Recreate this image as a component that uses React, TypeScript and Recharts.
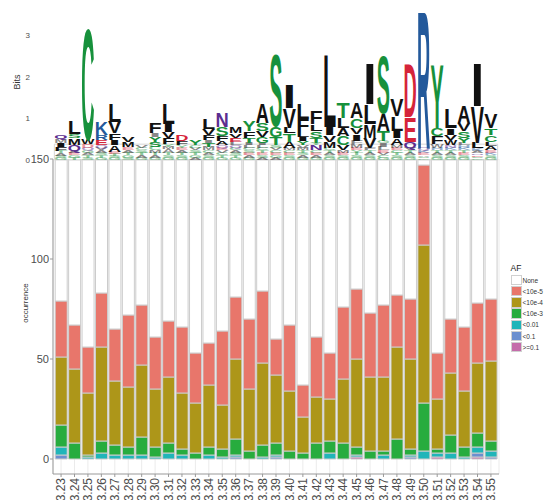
import React from 'react';
import { BarChart, Bar, XAxis, YAxis, CartesianGrid, ReferenceArea } from 'recharts';

const positions = [
  '3.23', '3.24', '3.25', '3.26', '3.27', '3.28', '3.29', '3.30', '3.31', '3.32', '3.33',
  '3.34', '3.35', '3.36', '3.37', '3.38', '3.39', '3.40', '3.41', '3.42', '3.43', '3.44',
  '3.45', '3.46', '3.47', '3.48', '3.49', '3.50', '3.51', '3.52', '3.53', '3.54', '3.55',
];

const afLevels = ['None', '<10e-5', '<10e-4', '<10e-3', '<0.01', '<0.1', '>=0.1'];
const afColors = ['#ffffff', '#E8766B', '#AD9619', '#27AC3E', '#20B5B9', '#6B8FCF', '#C46CAA'];

// occurrence counts per AF class
const noneCounts = [71, 83, 94, 67, 85, 78, 73, 89, 81, 84, 97, 92, 86, 69, 80, 66, 90, 83, 113, 89, 97, 74, 65, 77, 73, 68, 70, 3, 97, 80, 84, 72, 70];
const e5Counts = [28, 22, 23, 27, 26, 36, 30, 26, 28, 33, 25, 21, 37, 31, 35, 36, 18, 33, 16, 30, 23, 36, 35, 32, 36, 26, 30, 40, 23, 27, 32, 30, 31];
const e4Counts = [34, 37, 31, 47, 32, 30, 36, 29, 33, 28, 25, 31, 22, 40, 31, 41, 34, 30, 18, 23, 21, 32, 44, 37, 37, 46, 45, 79, 25, 31, 28, 35, 40];
const e3Counts = [11, 8, 1, 6, 5, 4, 9, 5, 5, 3, 3, 4, 4, 8, 4, 6, 6, 4, 3, 8, 6, 8, 4, 4, 2, 10, 3, 24, 2, 9, 5, 7, 5];
const p01Counts = [4, 0, 1, 3, 2, 2, 2, 1, 3, 2, 0, 2, 1, 1, 0, 1, 1, 0, 0, 0, 3, 0, 1, 0, 2, 0, 1, 4, 2, 3, 1, 3, 3];
const p1Counts = [2, 0, 0, 0, 0, 0, 0, 0, 0, 0, 0, 0, 0, 1, 0, 0, 1, 0, 0, 0, 0, 0, 0, 0, 0, 0, 1, 0, 0, 0, 0, 2, 1];
const ge1Counts = [0, 0, 0, 0, 0, 0, 0, 0, 0, 0, 0, 0, 0, 0, 0, 0, 0, 0, 0, 0, 0, 0, 1, 0, 0, 0, 0, 0, 1, 0, 0, 1, 0];

// sequence logo: letter + bits, bottom to top
const logoColumns = [
  'G.05 S.05 A.06 T.06 F.10 I.10 M.08 Q.10',
  'T.06 G.06 E.05 A.05 Q.14 M.16 S.10 L.30',
  'S.05 T.06 A.06 G.06 Q.07 D.08 W.12 C2.70',
  'G.06 T.06 S.06 A.06 V.06 Q.06 E.12 R.12 K.30',
  'G.05 S.05 T.05 E.05 A.16 I.12 F.16 V.28 L.44',
  'S.06 G.06 T.06 A.07 E.07 M.12 V.12',
  'G.06 A.06 T.06 S.06 C.06 V.06',
  'G.06 A.06 T.06 M.06 C.08 S.12 Y.12 I.08 F.26',
  'G.06 S.06 T.06 A.08 M.06 Y.06 F.16 V.14 I.18 L.52',
  'G.06 S.06 T.06 A.06 E.06 Y.06 F.10 D.14',
  'A.06 G.06 T.06 S.06 V.06 C.06 Y.12',
  'G.06 S.06 A.06 C.06 M.08 T.10 I.06 F.12 V.14 L.24',
  'G.06 T.06 C.06 V.06 E.06 Q.06 A.10 F.12 S.22 N.34',
  'G.06 T.06 S.06 A.06 C.06 Q.06 L.08 E.10 V.10 M.14',
  'G.06 A.06 E.06 S.06 C.06 L.06 I.06 T.12 F.16 Y.24',
  'A.06 S.06 E.06 T.06 C.06 L.06 I.06 G.14 V.14 S.18 A.48',
  'A.06 G.06 E.06 C.06 V.06 S.06 T.20 G.26 S1.74',
  'G.06 S.06 E.06 C.06 M.06 A.14 T.20 L.14 V.48 I.56',
  'G.06 A.06 S.06 T.06 M.06 V.06 Y.10 I.10 L.12 F.30 L.38',
  'G.06 A.06 E.06 C.06 N.12 Y.06 T.12 S.16 L.16 F.30',
  'G.06 S.06 A.06 T.06 C.06 M.14 V.16 I.20 L1.80',
  'G.06 S.06 E.06 M.06 V.12 C.22 A.20 L.24 T.38',
  'G.06 S.06 T.06 Y.06 E.06 M.08 F.08 I.16 V.16 C.22 A.38',
  'G.06 S.06 A.06 T.06 F.06 V.24 M.32 L.48 I.98',
  'G.06 C.06 V.06 E.06 L.08 I.08 G.06 T.24 A.42 S1.40',
  'G.06 S.06 T.06 C.06 E.06 M.06 A.16 I.18 L.36 V.42',
  'G.06 S.06 A.06 T.06 V.06 Q.14 E.60 D1.32',
  'G.04 S.04 A.04 E.06 K.06 Q.06 R3.38',
  'G.06 S.06 A.06 T.06 H.06 W.08 F.20 C.20 Y1.56',
  'G.06 S.06 A.06 T.06 K.06 N.06 W.12 V.12 I.16 L.46',
  'G.06 S.06 E.06 T.06 K.06 H.06 L.06 Y.12 S.16 V.20 A.42',
  'G.04 S.04 E.04 N.04 A.06 K.06 L.14 V.88 I1.04',
  'G.06 S.06 K.06 E.06 A.10 L.10 C.16 T.16 V.34',
];

const FONT = '"Liberation Sans", Arial, Helvetica, sans-serif';
const CAP = 0.716;
const LEVELS = 11;

const barData = positions.map((pos, i) => ({
  pos,
  ge1: ge1Counts[i],
  p1: p1Counts[i],
  p01: p01Counts[i],
  e3: e3Counts[i],
  e4: e4Counts[i],
  e5: e5Counts[i],
  none: noneCounts[i],
}));

const logoData = positions.map((pos, i) => {
  const row: any = { pos };
  const tokens = logoColumns[i].split(' ');
  for (let k = 0; k < LEVELS; k++) {
    const t = tokens[k];
    row[`h${k}`] = t ? parseFloat(t.slice(1)) : 0;
    row[`a${k}`] = t ? t[0] : '';
  }
  return row;
});

const letterColor = (a: string) => {
  if ('GSTYC'.includes(a)) return '#17913c';
  if ('NQ'.includes(a)) return '#5b2d90';
  if ('KRH'.includes(a)) return '#23599b';
  if ('DE'.includes(a)) return '#d5243a';
  return '#111111';
};

const makeLetter = (level: number) => (props: any) => {
  const { x, y, width, height, payload } = props;
  const letter = payload ? payload[`a${level}`] : '';
  if (!letter || !(height > 0)) return <g />;
  const sy = height / (100 * CAP);
  // tiny letters come out pale in the original
  const op = height < 3.5 ? 0.5 : 1;
  return (
    <text
      x={0}
      y={0}
      fontSize={100}
      fontFamily={FONT}
      fontWeight="bold"
      fill={letterColor(letter)}
      fillOpacity={op}
      textLength={width * 1.1}
      lengthAdjust="spacingAndGlyphs"
      transform={`translate(${x - width * 0.05},${y + height}) scale(1,${sy})`}
    >
      {letter}
    </text>
  );
};

const PosTick = ({ x, y, payload }: any) => (
  <text
    transform={`translate(${x + 4.3},${y}) rotate(-90)`}
    textAnchor="end"
    fontSize={12}
    fontFamily={FONT}
    fill="#4d4d4d"
  >
    {payload.value}
  </text>
);

const LogoTick = ({ y, payload }: any) => (
  <text x={30} y={y} dy={3} textAnchor="end" fontSize={8} fontFamily={FONT} fill="#4d4d4d">
    {payload.value}
  </text>
);

const seriesKeys = ['ge1', 'p1', 'p01', 'e3', 'e4', 'e5', 'none'];

export default function App() {
  return (
    <div style={{ position: 'absolute', left: 0, top: 0, width: 544, height: 500, background: '#fff', fontFamily: FONT, overflow: 'hidden' }}>
      <div style={{ position: 'absolute', left: 0, top: 0 }}>
        <BarChart width={544} height={500} data={barData} margin={{ top: 159, right: 45, bottom: 0, left: 0 }} barCategoryGap={0.85}>
          <CartesianGrid vertical horizontal={false} stroke="#ebebeb" />
          <XAxis
            dataKey="pos"
            interval={0}
            height={26}
            padding={{ left: 1.35, right: 1.35 }}
            tick={<PosTick />}
            tickSize={3}
            tickMargin={1}
            axisLine={{ stroke: '#999' }}
            tickLine={{ stroke: '#999' }}
          />
          <YAxis
            width={53}
            type="number"
            domain={[-7.5, 150]}
            allowDataOverflow
            interval={0}
            ticks={[0, 50, 100, 150]}
            tickSize={3}
            tickMargin={1}
            tick={{ fontSize: 11, fill: '#4d4d4d', fontFamily: FONT }}
            axisLine={{ stroke: '#999' }}
            tickLine={{ stroke: '#999' }}
          />
          {seriesKeys.map((k, i) => (
            <Bar
              key={k}
              dataKey={k}
              stackId="af"
              fill={afColors[afColors.length - 1 - i]}
              stroke="#cccccc"
              strokeWidth={1}
              isAnimationActive={false}
            />
          ))}
        </BarChart>
      </div>

      <div style={{ position: 'absolute', left: 0, top: 0 }}>
        <BarChart width={544} height={166} data={logoData} margin={{ top: 0, right: 45, bottom: 6, left: 0 }} barCategoryGap={0.6}>
          <XAxis dataKey="pos" hide padding={{ left: 1.35, right: 1.35 }} />
          <YAxis
            width={53}
            type="number"
            domain={[0, 3.84]}
            allowDataOverflow
            interval={0}
            ticks={[0, 1, 2, 3]}
            axisLine={false}
            tickLine={false}
            tick={<LogoTick />}
          />
          <ReferenceArea y1={0} y2={0.38} fill="none" stroke="#d6d6d6" strokeWidth={1} ifOverflow="visible" />
          {Array.from({ length: LEVELS }).map((_, k) => (
            <Bar key={k} dataKey={`h${k}`} stackId="logo" shape={makeLetter(k)} isAnimationActive={false} />
          ))}
        </BarChart>
      </div>

      <div style={{ position: 'absolute', left: 17, top: 82, transform: 'translate(-50%,-50%) rotate(-90deg)', fontSize: 9, color: '#333', whiteSpace: 'nowrap' }}>
        Bits
      </div>
      <div style={{ position: 'absolute', left: 25, top: 303, transform: 'translate(-50%,-50%) rotate(-90deg)', fontSize: 8, color: '#333', whiteSpace: 'nowrap' }}>
        occurrence
      </div>

      <div style={{ position: 'absolute', left: 510.5, top: 263, fontSize: 8.5, color: '#222', lineHeight: '11px' }}>AF</div>
      {afLevels.map((lvl, i) => (
        <div key={lvl} style={{ position: 'absolute', left: 510.5, top: 274.5 + i * 11.2, height: 11, display: 'flex', alignItems: 'center' }}>
          <div style={{ width: 11, height: 10.5, boxSizing: 'border-box', border: '1px solid #d0d0d0', background: afColors[i], flexShrink: 0 }} />
          <span style={{ fontSize: 6.5, color: '#333', marginLeft: 1, whiteSpace: 'nowrap' }}>{lvl}</span>
        </div>
      ))}
    </div>
  );
}
